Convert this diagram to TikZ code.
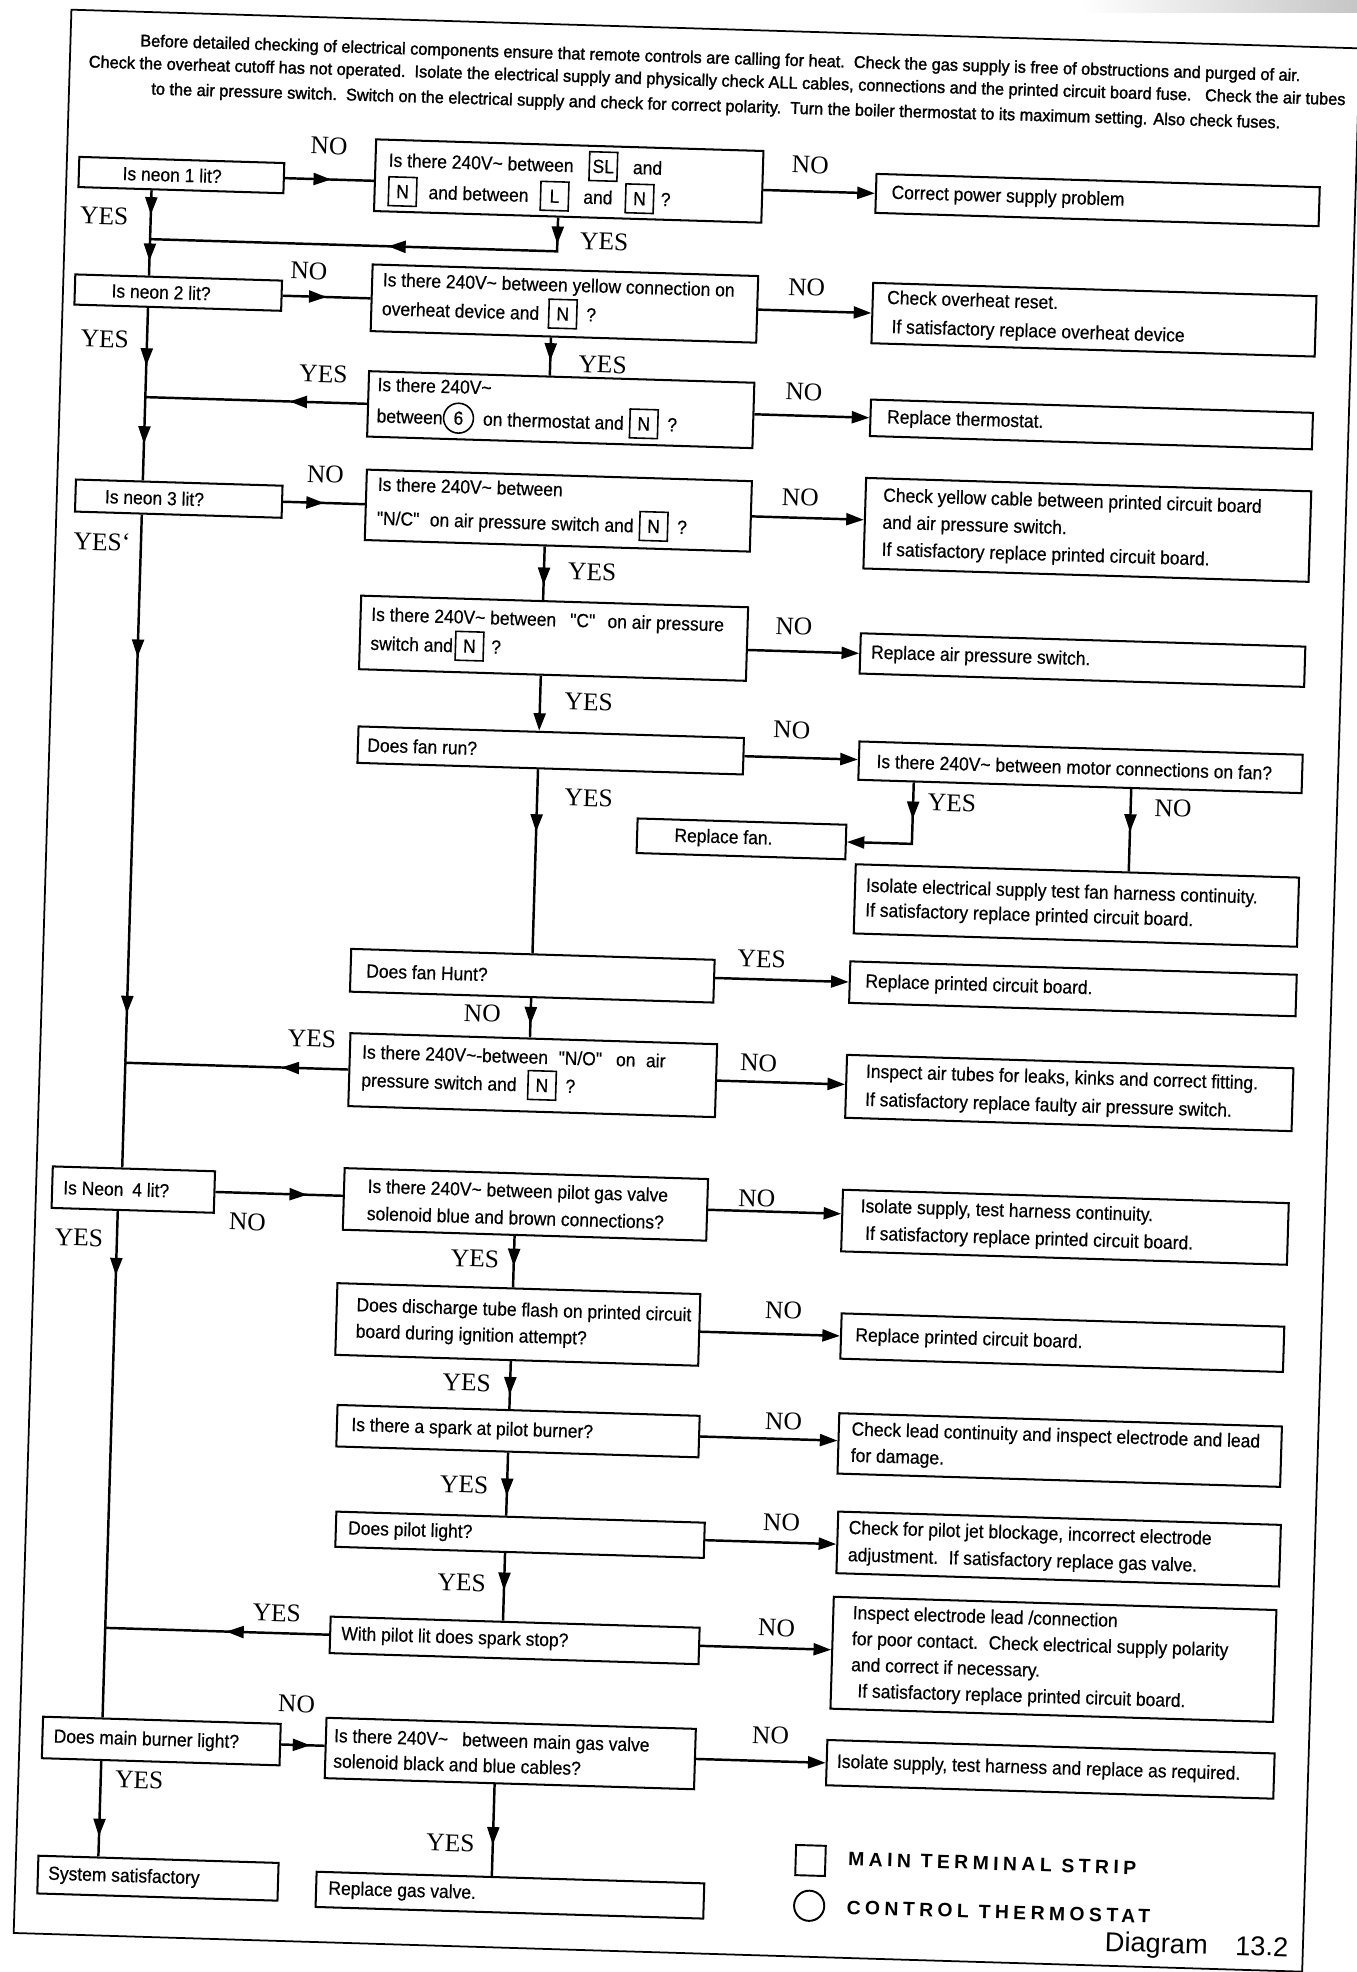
\documentclass[tikz,border=0pt]{standalone}
\usepackage{fontspec}
\usepackage{pict2e}
\setmainfont{Liberation Sans}
\newfontfamily\boxfont[FakeStretch=0.92,FakeBold=0.5]{Liberation Sans}
\newfontfamily\ynfont{Liberation Serif}
\newfontfamily\hdrfont[FakeStretch=0.966,FakeBold=1.6]{Liberation Sans}
\newfontfamily\legfont[LetterSpace=23]{Liberation Sans}
\usetikzlibrary{arrows.meta,decorations.markings,calc}
\newdimen\pxu \pxu=0.7157pt
\newcommand\tbx[1]{{\setlength{\fboxsep}{0pt}\setlength{\fboxrule}{0.9pt}\fbox{\makebox[15pt]{\rule[-4pt]{0pt}{15.5pt}#1}}}}
\newcommand\tcir[1]{{\setlength{\unitlength}{1pt}\linethickness{0.9pt}\begin{picture}(18,8)\put(9,3.8){\circle{17}}\put(9,3.8){\makebox(0,0){#1}}\end{picture}}}
\tikzset{
  >={Triangle[length=10pt,width=6.8pt]},
  ln/.style={line width=1.4pt},
  ma/.style={postaction={decorate,decoration={markings,mark=at position #1 with {\arrow{>}}}}},
  bx/.style={draw,line width=1.15pt,rectangle,anchor=north west,inner sep=0pt},
  txt/.style={anchor=west,align=left,inner sep=0pt},
  yn/.style={inner sep=0pt,font=\ynfont\fontsize{14.5}{15}\selectfont},
  hdr/.style={inner sep=0pt,font=\hdrfont\fontsize{9.6}{11}\selectfont},
  leg/.style={anchor=west,inner sep=0pt,font=\legfont\bfseries\fontsize{11}{12}\selectfont},
}
% #1 baselineskip, #2 name, #3 X, #4 Y, #5 width, #6 height, #7 indent, #8 text
\newcommand\bxn[8][15.5]{%
  \node[bx,minimum width=#5\pxu,minimum height=#6\pxu] (#2) at (#3,#4) {};
  \node[txt,font=\boxfont\fontsize{10.8}{#1}\selectfont] (#2t) at ($(#2.west)!#7/#5!(#2.east)$) {#8};
}
\begin{document}
\begin{tikzpicture}[x=0.025154cm,y=-0.025154cm]
\useasboundingbox (0,0) rectangle (1079,1568);
\shade[left color=white,right color=gray!45] (860,0) rectangle (1079,10);
\begin{scope}[rotate=-1.72,transform shape]
\draw[line width=1pt] (57,6) rectangle (1082,1536);
% header
\node[hdr] (h1) at (574,30) {Before detailed checking of electrical components ensure that remote controls are calling for heat.\ \ Check the gas supply is free of obstructions and purged of air.};
\node[hdr] (h2) at (572,48) {Check the overheat cutoff has not operated.\ \ Isolate the electrical supply and physically check ALL cables, connections and the printed circuit board fuse.\ \ \ Check the air tubes};
\node[hdr] (h3) at (571.5,68) {to the air pressure switch.\ \ Switch on the electrical supply and check for correct polarity.\ \ Turn the boiler thermostat to its maximum setting. Also check fuses.};
% column coordinates
\coordinate (tu) at (125,0);
\coordinate (tl) at (122.5,0);
\coordinate (mb) at (448.8,0);
\coordinate (mu) at (446,0);
\coordinate (ml) at (438.5,0);
\coordinate (mll) at (435.7,0);
\coordinate (moy) at (745,0);
\coordinate (mon) at (918,0);
% boxes
\bxn{A}{66}{122}{163}{24}{35}{Is neon 1 lit?}
\bxn[17.7]{B}{301.5}{101}{308}{57}{11}{Is there 240V\textasciitilde{} between\hspace{8.5pt}\tbx{SL}\hspace{8.5pt}and\\\tbx{N}\hspace{6.4pt}and between\hspace{6.4pt}\tbx{L}\hspace{8pt}and\hspace{7pt}\tbx{N}\hspace{3.7pt}?}
\bxn{C}{700}{116.5}{352.5}{31}{13}{Correct power supply problem}
\bxn{D}{65.6}{215.5}{164.4}{24}{29.5}{Is neon 2 lit?}
\bxn[16.5]{E}{301.7}{200.5}{306.6}{53}{9}{Is there 240V\textasciitilde{} between yellow connection on\\overheat device and\hspace{5pt}\tbx{N}\hspace{5pt}?}
\bxn[16.5]{F}{700}{203.2}{352.5}{48}{12}{Check overheat reset.\\\hspace*{3pt}If satisfactory replace overheat device}
\bxn[17.9]{G}{301.4}{285.4}{306.4}{52}{7.6}{Is there 240V\textasciitilde\\between\tcir{6}\hspace{5pt}on thermostat and\hspace{3pt}\tbx{N}\hspace{5pt}?}
\bxn{H}{701}{296}{351.5}{29}{13.8}{Replace thermostat.}
\bxn{I}{71}{378.5}{164.3}{25.5}{23.8}{Is neon 3 lit?}
\bxn[19.3]{J}{302}{363.7}{306.2}{56}{9.6}{Is there 240V\textasciitilde{} between\\"N/C"\hspace{6pt}on air pressure switch and\hspace{3pt}\tbx{N}\hspace{5pt}?}
\bxn[15.4]{K}{699}{358.4}{354}{72}{14.6}{Check yellow cable between printed circuit board\\and air pressure switch.\\If satisfactory replace printed circuit board.}
\bxn[16.5]{L}{300.5}{464}{307.7}{58.5}{9}{Is there 240V\textasciitilde{} between\hspace{8pt}"C"\hspace{7pt}on air pressure\\switch and\hspace{1pt}\tbx{N}\hspace{4pt}?}
\bxn{M}{698.5}{482}{353.5}{32}{9.2}{Replace air pressure switch.}
\bxn{N}{301.5}{568}{306.5}{29}{8}{Does fan run?}
\bxn{O}{700}{568}{352.5}{30.5}{14.6}{Is there 240V\textasciitilde{} between motor connections on fan?}
\bxn{P}{525.5}{634.5}{166}{27.5}{30}{Replace fan.}
\bxn[14]{Q}{700}{665.7}{352.5}{55}{9.2}{Isolate electrical supply test fan harness continuity.\\If satisfactory replace printed circuit board.}
\bxn{R}{301}{745}{289}{34}{13}{Does fan Hunt?}
\bxn{S}{698}{743}{355}{33}{13}{Replace printed circuit board.}
\bxn[16]{T}{302.4}{812}{291.6}{58}{10.3}{Is there 240V\textasciitilde-between\hspace{6pt}"N/O"\hspace{8pt}on\hspace{6pt}air\\pressure switch and\hspace{6pt}\tbx{N}\hspace{5pt}?}
\bxn[16]{U}{697.6}{817.4}{355}{50}{16}{Inspect air tubes for leaks, kinks and correct fitting.\\If satisfactory replace faulty air pressure switch.}
\bxn{V}{69}{925}{129}{33}{9.3}{Is Neon\hspace{5pt}4 lit?}
\bxn[15.5]{W}{301}{919.4}{289}{49}{19.2}{Is there 240V\textasciitilde{} between pilot gas valve\\solenoid blue and brown connections?}
\bxn[15.5]{X}{697.6}{924.7}{354.5}{49}{15}{Isolate supply, test harness continuity.\\\hspace*{3pt}If satisfactory replace printed circuit board.}
\bxn[15]{Y}{298}{1011}{288.6}{57}{16.2}{Does discharge tube flash on printed circuit\\board during ignition attempt?}
\bxn{Z}{699.5}{1023}{352}{36}{12}{Replace printed circuit board.}
\bxn{AA}{301}{1107.8}{288}{33}{12}{Is there a spark at pilot burner?}
\bxn[15]{AB}{700}{1102.4}{352}{48}{10.7}{Check lead continuity and inspect electrode and lead\\for damage.}
\bxn{AC}{302.6}{1192.6}{293}{28}{10.3}{Does pilot light?}
\bxn[15.5]{AD}{701.5}{1180.6}{352}{49}{9.3}{Check for pilot jet blockage, incorrect electrode\\adjustment.\hspace{6pt}If satisfactory replace gas valve.}
\bxn{AE}{300.6}{1276.2}{293.4}{29}{9.4}{With pilot lit does spark stop?}
\bxn[14.8]{AF}{700}{1248.4}{352}{89}{16}{Inspect electrode lead /connection\\for poor contact.\hspace{6pt}Check electrical supply polarity\\and correct if necessary.\\\hspace*{4pt}If satisfactory replace printed circuit board.}
\bxn{AG}{74.4}{1362.6}{189}{33}{9.4}{Does main burner light?}
\bxn[14.5]{AH}{299.7}{1356.7}{293.7}{48}{7}{Is there 240V\textasciitilde\hspace{8pt}between main gas valve\\solenoid black and blue cables?}
\bxn{AI}{698.3}{1362.4}{355.7}{36}{8.7}{Isolate supply, test harness and replace as required.}
\bxn{AJ}{74}{1473.2}{191}{30}{8.7}{System satisfactory}
\bxn{AK}{295.5}{1479.3}{308.3}{28}{10.3}{Replace gas valve.}
% junctions and corners
\coordinate (j1) at (125,186.5);
\coordinate (c1) at (448.8,186.5);
\coordinate (j2) at ($(G.west)!(tu)!(G.east)$);
\coordinate (j3) at ($(T.west)!(tu)!(T.east)$);
\coordinate (j4) at ($(AE.west)!(tl)!(AE.east)$);
\coordinate (c2) at ($(P.west)!(moy)!(P.east)$);
% left trunk
\draw[ln,ma=0.5] ($(A.south west)!(tu)!(A.south east)$) -- (j1);
\draw[ln,ma=0.6] (j1) -- ($(D.north west)!(tu)!(D.north east)$);
\draw[ln,ma=0.65] ($(D.south west)!(tu)!(D.south east)$) -- (j2);
\draw[ln,ma=0.56] (j2) -- ($(I.north west)!(tu)!(I.north east)$);
\draw[ln,ma=0.26,ma=0.91] ($(I.south west)!(tu)!(I.south east)$) -- (j3);
\draw[ln] (j3) -- ($(V.north west)!(tu)!(V.north east)$);
\draw[ln,ma=0.155] ($(V.south west)!(tl)!(V.south east)$) -- (j4);
\draw[ln] (j4) -- ($(AG.north west)!(tl)!(AG.north east)$);
\draw[ln,ma=0.79] ($(AG.south west)!(tl)!(AG.south east)$) -- ($(AJ.north west)!(tl)!(AJ.north east)$);
% left-going YES returns
\draw[ln,ma=0.06,ma=0.46] ($(B.south west)!(mb)!(B.south east)$) -- (c1) -- (j1);
\draw[ln,ma=0.35] (G.west) -- (j2);
\draw[ln,ma=0.3] (T.west) -- (j3);
\draw[ln,ma=0.46] (AE.west) -- (j4);
% left column NO arrows
\draw[ln,ma=0.52] (A.east) -- ($(B.north west)!(A.east)!(B.south west)$);
\draw[ln,ma=0.5] (D.east) -- ($(E.north west)!(D.east)!(E.south west)$);
\draw[ln,ma=0.5] (I.east) -- ($(J.north west)!(I.east)!(J.south west)$);
\draw[ln,ma=0.72] (V.east) -- ($(W.north west)!(V.east)!(W.south west)$);
\draw[ln,ma=0.67] (AG.east) -- ($(AH.north west)!(AG.east)!(AH.south west)$);
% main column downward
\draw[ln,ma=0.61] ($(E.south west)!(mu)!(E.south east)$) -- ($(G.north west)!(mu)!(G.north east)$);
\draw[ln,ma=0.72] ($(J.south west)!(mu)!(J.south east)$) -- ($(L.north west)!(mu)!(L.north east)$);
\draw[ln,->] ($(L.south west)!(mu)!(L.south east)$) -- ($(N.north west)!(mu)!(N.north east)$);
\draw[ln,ma=0.34] ($(N.south west)!(mu)!(N.south east)$) -- ($(R.north west)!(mu)!(R.north east)$);
\draw[ln,ma=0.67] ($(R.south west)!(mu)!(R.south east)$) -- ($(T.north west)!(mu)!(T.north east)$);
\draw[ln,ma=0.59] ($(W.south west)!(ml)!(W.south east)$) -- ($(Y.north west)!(ml)!(Y.north east)$);
\draw[ln,ma=0.7] ($(Y.south west)!(ml)!(Y.south east)$) -- ($(AA.north west)!(ml)!(AA.north east)$);
\draw[ln,ma=0.69] ($(AA.south west)!(ml)!(AA.south east)$) -- ($(AC.north west)!(ml)!(AC.north east)$);
\draw[ln,ma=0.55] ($(AC.south west)!(ml)!(AC.south east)$) -- ($(AE.north west)!(ml)!(AE.north east)$);
\draw[ln,ma=0.66] ($(AH.south west)!(mll)!(AH.south east)$) -- ($(AK.north west)!(mll)!(AK.north east)$);
% right-going arrows to answers
\draw[ln,->] ($(B.north east)!(C.west)!(B.south east)$) -- (C.west);
\draw[ln,->] ($(E.north east)!(F.west)!(E.south east)$) -- (F.west);
\draw[ln,->] ($(G.north east)!(H.west)!(G.south east)$) -- (H.west);
\draw[ln,->] (J.east) -- ($(K.north west)!(J.east)!(K.south west)$);
\draw[ln,->] ($(L.north east)!(M.west)!(L.south east)$) -- (M.west);
\draw[ln,->] (N.east) -- ($(O.north west)!(N.east)!(O.south west)$);
\draw[ln,->] ($(R.north east)!(S.west)!(R.south east)$) -- (S.west);
\draw[ln,->] (T.east) -- ($(U.north west)!(T.east)!(U.south west)$);
\draw[ln,->] (W.east) -- ($(X.north west)!(W.east)!(X.south west)$);
\draw[ln,->] ($(Y.north east)!(Z.west)!(Y.south east)$) -- (Z.west);
\draw[ln,->] (AA.east) -- ($(AB.north west)!(AA.east)!(AB.south west)$);
\draw[ln,->] (AC.east) -- ($(AD.north west)!(AC.east)!(AD.south west)$);
\draw[ln,->] (AE.east) -- ($(AF.north west)!(AE.east)!(AF.south west)$);
\draw[ln,->] (AH.east) -- ($(AI.north west)!(AH.east)!(AI.south west)$);
% fan sub-branch
\draw[ln,ma=0.29,->] ($(O.south west)!(moy)!(O.south east)$) -- (c2) -- (P.east);
\draw[ln,ma=0.52] ($(O.south west)!(mon)!(O.south east)$) -- ($(Q.north west)!(mon)!(Q.north east)$);
% YES / NO labels
\node[yn] (lA1) at (265,108) {NO};
\node[yn] (lA2) at (88,169.5) {YES};
\node[yn] (lB1) at (648,111.7) {NO};
\node[yn] (lB2) at (486,177.6) {YES};
\node[yn] (lD1) at (252,208) {NO};
\node[yn] (lD2) at (91.4,267.2) {YES};
\node[yn] (lE1) at (648,209.3) {NO};
\node[yn] (lE2) at (487.7,275.6) {YES};
\node[yn] (lG1) at (266,289.6) {YES};
\node[yn] (lG2) at (648.3,292.3) {NO};
\node[yn] (lI1) at (270,369.2) {NO};
\node[yn] (lI2) at (94,428.3) {YES\textquoteleft};
\node[yn] (lJ1) at (648,376.4) {NO};
\node[yn] (lJ2) at (484.3,440.4) {YES};
\node[yn] (lL1) at (646,479) {NO};
\node[yn] (lL2) at (484.7,544) {YES};
\node[yn] (lN1) at (646.8,561.5) {NO};
\node[yn] (lN2) at (487,620.5) {YES};
\node[yn] (lO1) at (775.8,615.8) {YES};
\node[yn] (lO2) at (951.7,614.7) {NO};
\node[yn] (lR1) at (628.3,744.2) {YES};
\node[yn] (lR2) at (407.5,794) {NO};
\node[yn] (lT1) at (272.8,818) {YES};
\node[yn] (lT2) at (628.4,826.9) {NO};
\node[yn] (lV1) at (225.8,965.5) {NO};
\node[yn] (lV2) at (92.3,981.8) {YES};
\node[yn] (lW1) at (630.1,934.6) {NO};
\node[yn] (lW2) at (407.5,989.2) {YES};
\node[yn] (lY1) at (654,1022.9) {NO};
\node[yn] (lY2) at (404,1087.9) {YES};
\node[yn] (lAA1) at (656.7,1111) {NO};
\node[yn] (lAA2) at (404.4,1169) {YES};
\node[yn] (lAC1) at (657.5,1191.4) {NO};
\node[yn] (lAC2) at (404.7,1247) {YES};
\node[yn] (lAE1) at (258.5,1275.4) {YES};
\node[yn] (lAE2) at (656.1,1275.5) {NO};
\node[yn] (lAG1) at (276.4,1347.2) {NO};
\node[yn] (lAG2) at (153.2,1411.3) {YES};
\node[yn] (lAH1) at (653.9,1361.1) {NO};
\node[yn] (lAH2) at (402,1454.3) {YES};
% legend
\node[draw,line width=1.1pt,minimum width=23.6\pxu,minimum height=24\pxu,anchor=north west,inner sep=0pt] (sq) at (676,1446.6) {};
\node[leg] (sqt) at (718.3,1457.4) {MAIN TERMINAL STRIP};
\node[draw,circle,line width=1.1pt,minimum size=24\pxu,inner sep=0pt] (ci) at (688.6,1495.4) {};
\node[leg] (cit) at (718.2,1495.8) {CONTROL THERMOSTAT};
\node[anchor=west,inner sep=0pt,font=\fontsize{15.5}{16}\selectfont] (dg) at (924.2,1518.8) {Diagram\hspace{15.7pt}13.2};
\end{scope}
\end{tikzpicture}
\end{document}
